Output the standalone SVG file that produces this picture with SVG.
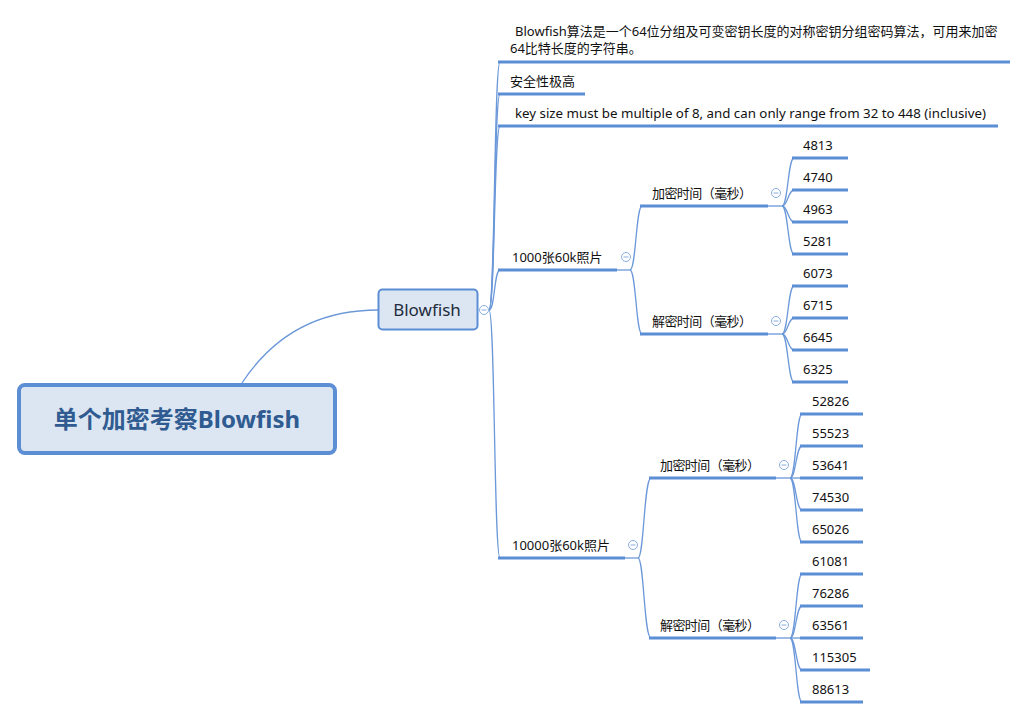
<svg xmlns="http://www.w3.org/2000/svg" width="1028" height="719" viewBox="0 0 1028 719">
<style>
.t{font-family:"Noto Sans","Noto Sans CJK SC",sans-serif;font-size:13px;fill:#111;}
.u{stroke:#5b8ed5;stroke-width:3;fill:none;}
.c{stroke:#6b98d8;stroke-width:1.3;fill:none;}
.m{fill:#fff;stroke:#8aaee0;stroke-width:1;}
.mm{stroke:#8aaee0;stroke-width:1;}
</style>
<rect width="1028" height="719" fill="#fff"/>
<g id="connectors">
<path class="c" d="M242 383 Q290 310 378 310"/>
<path class="c" d="M489 310 C495 310 494 62 500 62"/>
<path class="c" d="M489 310 C495 310 494 94 500 94"/>
<path class="c" d="M489 310 C495 310 494 126 500 126"/>
<path class="c" d="M489 310 C495 310 494 270 500 270"/>
<path class="c" d="M489 310 C495 310 494 558 500 558"/>
<path class="c" d="M617 270 H630"/>
<path class="c" d="M630 270 C636 270 636 206 642 206"/>
<path class="c" d="M630 270 C636 270 636 334 642 334"/>
<path class="c" d="M768 206 H782"/>
<path class="c" d="M782 206 C788 206 788 158 794 158"/>
<path class="c" d="M782 206 C788 206 788 190 794 190"/>
<path class="c" d="M782 206 C788 206 788 222 794 222"/>
<path class="c" d="M782 206 C788 206 788 254 794 254"/>
<path class="c" d="M768 334 H782"/>
<path class="c" d="M782 334 C788 334 788 286 794 286"/>
<path class="c" d="M782 334 C788 334 788 318 794 318"/>
<path class="c" d="M782 334 C788 334 788 350 794 350"/>
<path class="c" d="M782 334 C788 334 788 382 794 382"/>
<path class="c" d="M625 558 H638"/>
<path class="c" d="M638 558 C644 558 644 478 651 478"/>
<path class="c" d="M638 558 C644 558 644 638 651 638"/>
<path class="c" d="M776 478 H790"/>
<path class="c" d="M790 478 C796 478 796 414 802 414"/>
<path class="c" d="M790 478 C796 478 796 446 802 446"/>
<path class="c" d="M790 478 H802"/>
<path class="c" d="M790 478 C796 478 796 510 802 510"/>
<path class="c" d="M790 478 C796 478 796 542 802 542"/>
<path class="c" d="M776 638 H790"/>
<path class="c" d="M790 638 C796 638 796 574 802 574"/>
<path class="c" d="M790 638 C796 638 796 606 802 606"/>
<path class="c" d="M790 638 H802"/>
<path class="c" d="M790 638 C796 638 796 670 802 670"/>
<path class="c" d="M790 638 C796 638 796 702 802 702"/>
</g>
<g id="root">
<rect x="19" y="385" width="316" height="68" rx="6" fill="#dce6f2" stroke="#5b8ed5" stroke-width="4"/>
<text x="177" y="428" text-anchor="middle" style="font-family:'Noto Sans','Noto Sans CJK SC',sans-serif;font-size:24px;font-weight:bold;fill:#2f5b91">单个加密考察Blowfish</text>
</g>
<g id="blowfish">
<rect x="378.5" y="289.5" width="99" height="40" rx="4" fill="#dce6f2" stroke="#5b8ed5" stroke-width="2"/>
<text x="427" y="316" text-anchor="middle" style="font-family:'Noto Sans','Noto Sans CJK SC',sans-serif;font-size:17px;fill:#1e2b3c">Blowfish</text>
<circle class="m" cx="484" cy="310" r="4.5"/><path class="mm" d="M481.5 310 H486.5"/>
</g>
<g id="desc">
<text class="t" x="515" y="36">Blowfish算法是一个64位分组及可变密钥长度的对称密钥分组密码算法，可用来加密</text>
<text class="t" x="510" y="53">64比特长度的字符串。</text>
<path class="u" d="M498 62 H1010"/>
</g>
<g id="security">
<text class="t" x="510" y="86">安全性极高</text>
<path class="u" d="M498 94 H585"/>
</g>
<g id="keysize">
<text class="t" x="515" y="118" textLength="471" lengthAdjust="spacingAndGlyphs">key size must be multiple of 8, and can only range from 32 to 448 (inclusive)</text>
<path class="u" d="M498 126 H998"/>
</g>
<g id="b1000">
<text class="t" x="512" y="262">1000张60k照片</text>
<path class="u" d="M498 270 H617"/>
<circle class="m" cx="626" cy="257" r="4.5"/><path class="mm" d="M623.5 257 H628.5"/>
</g>
<g id="b1000-enc">
<text class="t" x="652" y="198" textLength="100">加密时间（毫秒）</text>
<path class="u" d="M640 206 H768"/>
<circle class="m" cx="776" cy="193" r="4.5"/><path class="mm" d="M773.5 193 H778.5"/>
</g>
<g id="b1000-dec">
<text class="t" x="652" y="326" textLength="100">解密时间（毫秒）</text>
<path class="u" d="M640 334 H768"/>
<circle class="m" cx="776" cy="321" r="4.5"/><path class="mm" d="M773.5 321 H778.5"/>
</g>
<g id="l4813"><text class="t" x="803" y="150">4813</text><path class="u" d="M792 158 H848"/></g>
<g id="l4740"><text class="t" x="803" y="182">4740</text><path class="u" d="M792 190 H848"/></g>
<g id="l4963"><text class="t" x="803" y="214">4963</text><path class="u" d="M792 222 H848"/></g>
<g id="l5281"><text class="t" x="803" y="246">5281</text><path class="u" d="M792 254 H848"/></g>
<g id="l6073"><text class="t" x="803" y="278">6073</text><path class="u" d="M792 286 H848"/></g>
<g id="l6715"><text class="t" x="803" y="310">6715</text><path class="u" d="M792 318 H848"/></g>
<g id="l6645"><text class="t" x="803" y="342">6645</text><path class="u" d="M792 350 H848"/></g>
<g id="l6325"><text class="t" x="803" y="374">6325</text><path class="u" d="M792 382 H848"/></g>
<g id="b10000">
<text class="t" x="512" y="550">10000张60k照片</text>
<path class="u" d="M498 558 H625"/>
<circle class="m" cx="633" cy="545" r="4.5"/><path class="mm" d="M630.5 545 H635.5"/>
</g>
<g id="b10000-enc">
<text class="t" x="660" y="470" textLength="100">加密时间（毫秒）</text>
<path class="u" d="M649 478 H776"/>
<circle class="m" cx="784" cy="465" r="4.5"/><path class="mm" d="M781.5 465 H786.5"/>
</g>
<g id="b10000-dec">
<text class="t" x="660" y="630" textLength="100">解密时间（毫秒）</text>
<path class="u" d="M649 638 H776"/>
<circle class="m" cx="784" cy="625" r="4.5"/><path class="mm" d="M781.5 625 H786.5"/>
</g>
<g id="l52826"><text class="t" x="812" y="406">52826</text><path class="u" d="M800 414 H863"/></g>
<g id="l55523"><text class="t" x="812" y="438">55523</text><path class="u" d="M800 446 H863"/></g>
<g id="l53641"><text class="t" x="812" y="470">53641</text><path class="u" d="M800 478 H863"/></g>
<g id="l74530"><text class="t" x="812" y="502">74530</text><path class="u" d="M800 510 H863"/></g>
<g id="l65026"><text class="t" x="812" y="534">65026</text><path class="u" d="M800 542 H863"/></g>
<g id="l61081"><text class="t" x="812" y="566">61081</text><path class="u" d="M800 574 H863"/></g>
<g id="l76286"><text class="t" x="812" y="598">76286</text><path class="u" d="M800 606 H863"/></g>
<g id="l63561"><text class="t" x="812" y="630">63561</text><path class="u" d="M800 638 H863"/></g>
<g id="l115305"><text class="t" x="812" y="662">115305</text><path class="u" d="M800 670 H870"/></g>
<g id="l88613"><text class="t" x="812" y="694">88613</text><path class="u" d="M800 702 H863"/></g>
</svg>
